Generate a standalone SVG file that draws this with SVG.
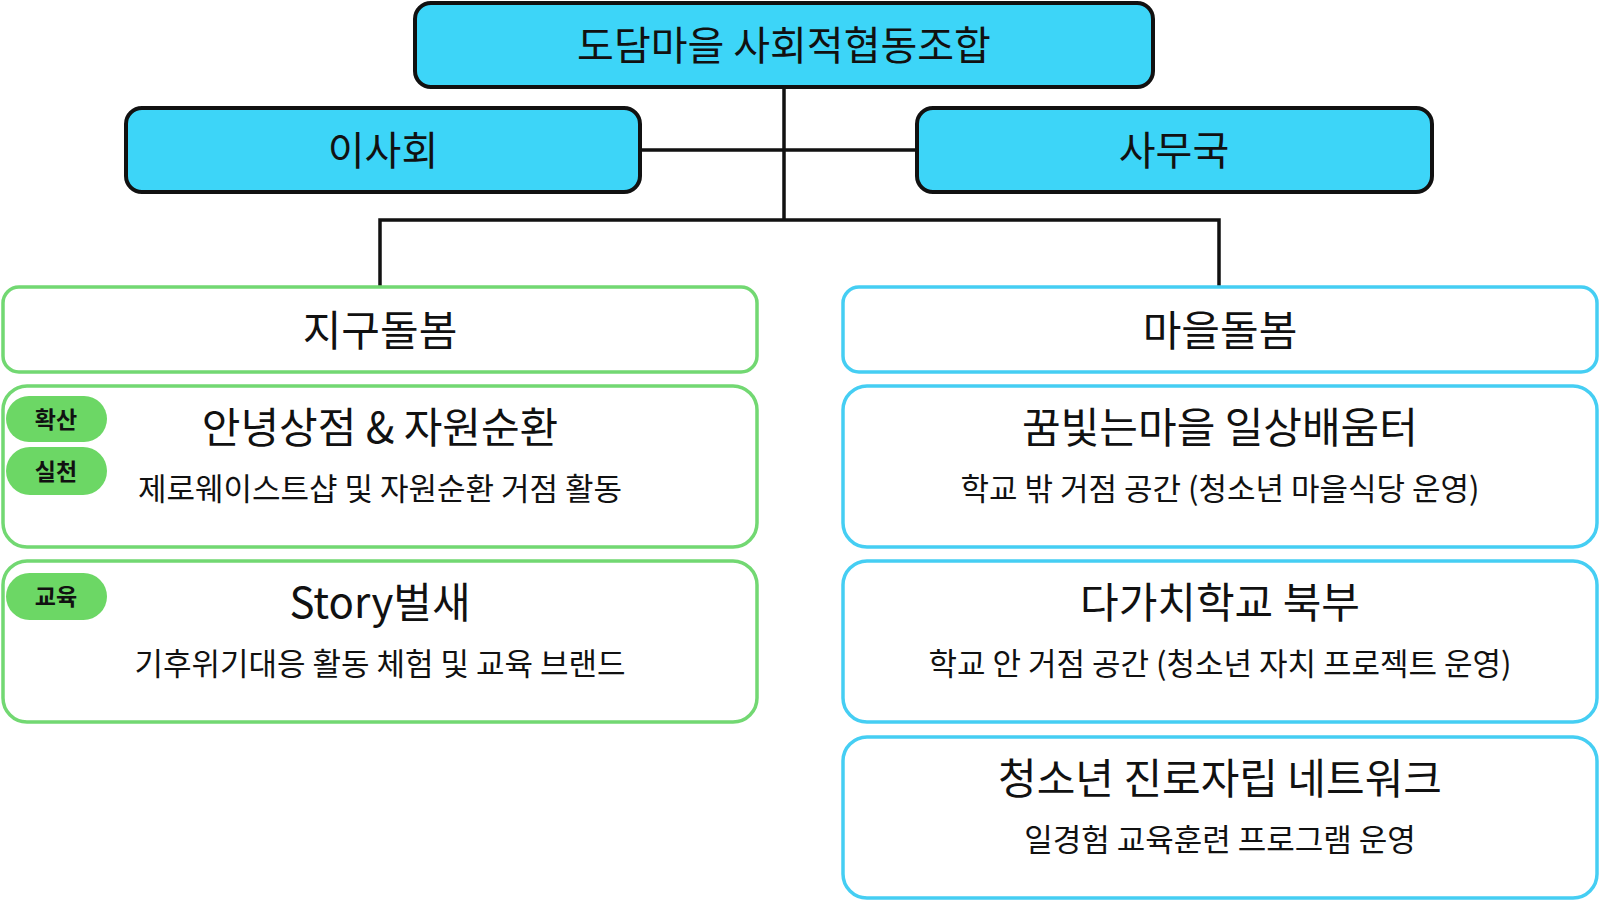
<svg xmlns="http://www.w3.org/2000/svg" width="1600" height="900" viewBox="0 0 1600 900">
<style>
text{font-family:"Noto Sans CJK KR","Noto Sans",sans-serif;fill:#111;text-anchor:middle;dominant-baseline:central}
.top{fill:#3DD5F8;stroke:#111;stroke-width:4}
.g{fill:#fff;stroke:#72D872;stroke-width:3.5}
.c{fill:#fff;stroke:#45CEF3;stroke-width:3.5}
.badge{fill:#6CD765}
.bt{font-size:23px;font-weight:700}
.t1{font-size:40px}
.t2{font-size:42px}
.sub{font-size:31px}
.conn{fill:none;stroke:#111;stroke-width:3.5}
</style>
<rect width="1600" height="900" fill="#fff"/>
<g id="connectors">
<path class="conn" d="M784 87V220M640 150H917M380 287V220H1219V287"/>
</g>
<g id="root"><rect class="top" x="415" y="3" width="738" height="84" rx="16"/><text class="t1" x="784" y="43">도담마을 사회적협동조합</text></g>
<g id="board"><rect class="top" x="126" y="108" width="514" height="84" rx="16"/><text class="t1" x="383" y="148">이사회</text></g>
<g id="office"><rect class="top" x="917" y="108" width="515" height="84" rx="16"/><text class="t1" x="1174" y="148">사무국</text></g>
<g id="district"><rect class="g" x="3" y="287" width="754" height="85" rx="16"/><text class="t2" x="380" y="327">지구돌봄</text></g>
<g id="village"><rect class="c" x="843" y="287" width="754" height="85" rx="16"/><text class="t2" x="1220" y="327">마을돌봄</text></g>
<g id="hello"><rect class="g" x="3" y="386" width="754" height="161" rx="24"/>
<rect class="badge" x="6" y="396" width="101" height="46" rx="23"/><text class="bt" x="56" y="418">확산</text>
<rect class="badge" x="6" y="447" width="101" height="48" rx="24"/><text class="bt" x="56" y="470">실천</text>
<text class="t2" x="380" y="424">안녕상점 &amp; 자원순환</text><text class="sub" x="380" y="486">제로웨이스트샵 및 자원순환 거점 활동</text></g>
<g id="story"><rect class="g" x="3" y="561" width="754" height="161" rx="24"/>
<rect class="badge" x="6" y="573" width="101" height="47" rx="23.5"/><text class="bt" x="56" y="595">교육</text>
<text class="t2" x="380" y="599">Story벌새</text><text class="sub" x="380" y="661">기후위기대응 활동 체험 및 교육 브랜드</text></g>
<g id="dream"><rect class="c" x="843" y="386" width="754" height="161" rx="24"/>
<text class="t2" x="1220" y="424">꿈빛는마을 일상배움터</text><text class="sub" x="1220" y="486">학교 밖 거점 공간 (청소년 마을식당 운영)</text></g>
<g id="dagachi"><rect class="c" x="843" y="561" width="754" height="161" rx="24"/>
<text class="t2" x="1220" y="599">다가치학교 북부</text><text class="sub" x="1220" y="661">학교 안 거점 공간 (청소년 자치 프로젝트 운영)</text></g>
<g id="youth"><rect class="c" x="843" y="737" width="754" height="161" rx="24"/>
<text class="t2" x="1220" y="775">청소년 진로자립 네트워크</text><text class="sub" x="1220" y="837">일경험 교육훈련 프로그램 운영</text></g>
</svg>
